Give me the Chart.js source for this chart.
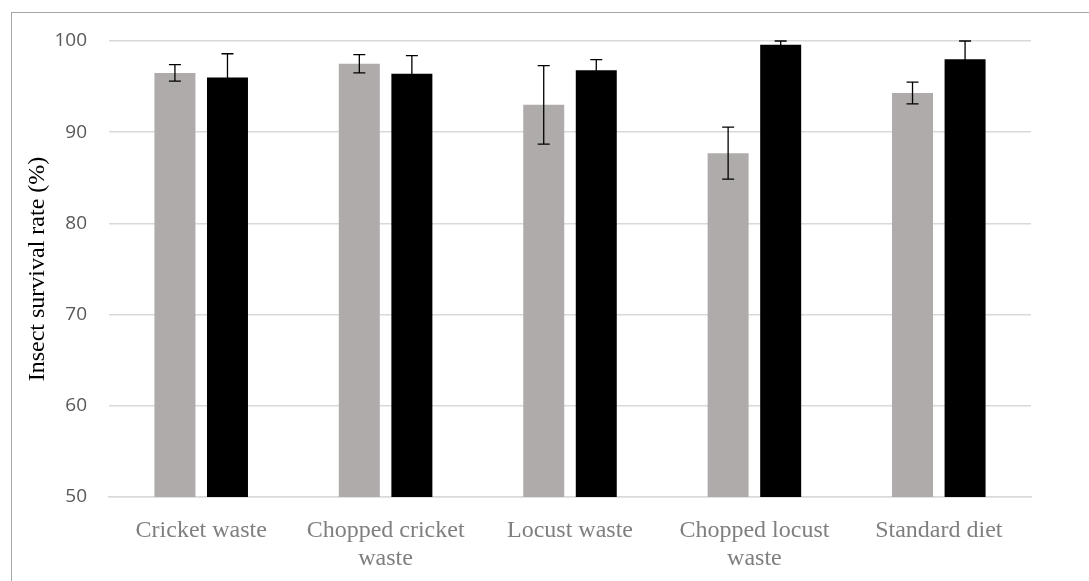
<!DOCTYPE html>
<html>
<head>
<meta charset="utf-8">
<script src="https://cdn.jsdelivr.net/npm/chart.js@4.4.1/dist/chart.umd.min.js"></script>
<style>
    body { margin: 0; background: #fff; }
    #wrap { position: relative; width: 1089px; height: 581px; }
    #frame { position: absolute; left: 11px; top: 12px; right: 0; bottom: 0;
             border-left: 1px solid #a6a6a6; border-top: 1px solid #a6a6a6; }
    #myChart { position: absolute; left: 0; top: 0; }
</style>
</head>
<body>
<div id="wrap">
    <div id="frame"></div>
    <canvas id="myChart" width="1089" height="581"></canvas>
</div>
<script>
// categories (wrapped the way the tick labels appear)
var categories = [
    'Cricket waste',
    ['Chopped cricket', 'waste'],
    'Locust waste',
    ['Chopped locust', 'waste'],
    'Standard diet'
];

// grey bars
var greyMeans = [96.5, 97.5, 93.0, 87.7, 94.3];
var greyErrors = [0.9, 1.0, 4.3, 2.85, 1.2];

// black bars
var blackMeans = [96.0, 96.4, 96.8, 99.6, 98.0];
var blackErrors = [2.6, 2.0, 1.15, 0.4, 2.0];

var yTicks = [50, 60, 70, 80, 90, 100];

let chart1;

// draws the +/- error whiskers on top of each bar
const errorBars = {
    id: 'errorBars',
    afterDatasetsDraw(chart) {
        const ctx = chart.ctx;
        const yScale = chart.scales.y;
        ctx.save();
        ctx.strokeStyle = '#000';
        ctx.lineWidth = 1.3;
        chart.data.datasets.forEach((ds, i) => {
            const meta = chart.getDatasetMeta(i);
            meta.data.forEach((bar, j) => {
                const v = ds.data[j];
                const e = ds.errors[j];
                const yTop = yScale.getPixelForValue(v + e);
                const yBot = yScale.getPixelForValue(v - e);
                const x = bar.x;
                const cap = 6;
                ctx.beginPath();
                ctx.moveTo(x, yTop);
                ctx.lineTo(x, yBot);
                ctx.moveTo(x - cap, yTop);
                ctx.lineTo(x + cap, yTop);
                ctx.moveTo(x - cap, yBot);
                ctx.lineTo(x + cap, yBot);
                ctx.stroke();
            });
        });
        ctx.restore();
    }
};

function generateBarGraph() {
    let ctx = document.getElementById('myChart').getContext('2d');

    if (chart1) {
        chart1.destroy();
    }

    chart1 = new Chart(ctx, {
        type: 'bar',
        data: {
            labels: categories,
            datasets: [{
                label: 'Grey',
                data: greyMeans,
                errors: greyErrors,
                backgroundColor: '#afabab',
                barPercentage: 0.78,
                categoryPercentage: 0.57
            }, {
                label: 'Black',
                data: blackMeans,
                errors: blackErrors,
                backgroundColor: '#000000',
                barPercentage: 0.78,
                categoryPercentage: 0.57
            }]
        },
        options: {
            responsive: false,
            animation: false,
            layout: {
                padding: { left: 19, top: 41, right: 58, bottom: 0 }
            },
            plugins: {
                legend: { display: false },
                tooltip: { enabled: false }
            },
            scales: {
                x: {
                    grid: { display: false },
                    border: { display: true, color: '#d9d9d9', width: 1.5 },
                    ticks: {
                        color: '#7f7f7f',
                        padding: 12,
                        maxRotation: 0,
                        autoSkip: false,
                        font: { family: '"Liberation Serif", "Times New Roman", serif', size: 24, lineHeight: 1.15 }
                    },
                    afterFit: function(scale) { scale.height = 84; }
                },
                y: {
                    min: 50,
                    max: 100,
                    afterBuildTicks: function(scale) {
                        scale.ticks = yTicks.map(v => ({ value: v }));
                    },
                    grid: {
                        color: '#d9d9d9',
                        lineWidth: 1.5,
                        drawTicks: false
                    },
                    border: { display: false },
                    ticks: {
                        color: '#595959',
                        padding: 22,
                        font: { family: '"Open Sans", sans-serif', size: 19 }
                    },
                    title: {
                        display: true,
                        text: 'Insect survival rate (%)',
                        color: '#000',
                        font: { family: '"Liberation Serif", "Times New Roman", serif', size: 24 }
                    },
                    afterFit: function(scale) { scale.width = 109 - 19; }
                }
            }
        },
        plugins: [errorBars]
    });
}

generateBarGraph();
</script>
</body>
</html>
